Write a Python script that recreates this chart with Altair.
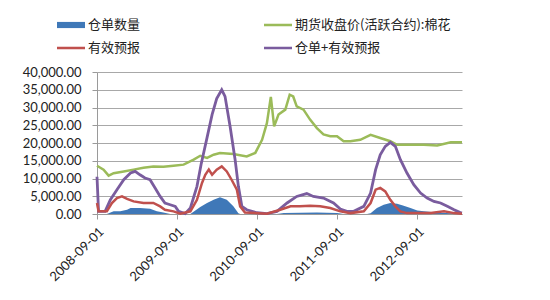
import altair as alt
import pandas as pd

# ---- data ----
series_names = ["仓单数量", "期货收盘价(活跃合约):棉花", "有效预报", "仓单+有效预报"]
series_colors = ["#3f78b8", "#9bbb59", "#c0504d", "#7a5c9e"]

green_dates = ["2008-09-01", "2008-10-01", "2008-10-24", "2008-11-16", "2009-01-01", "2009-02-15",
               "2009-04-01", "2009-05-16", "2009-07-01", "2009-08-16", "2009-10-01", "2009-11-16",
               "2009-12-16", "2010-01-16", "2010-02-15", "2010-03-16", "2010-05-16", "2010-07-16",
               "2010-08-24", "2010-09-24", "2010-10-16", "2010-11-03", "2010-11-18", "2010-12-08",
               "2011-01-08", "2011-01-28", "2011-02-13", "2011-03-01", "2011-04-01", "2011-05-01",
               "2011-06-01", "2011-07-01", "2011-08-01", "2011-09-01", "2011-10-01", "2011-11-01",
               "2011-12-16", "2012-02-01", "2012-03-16", "2012-05-01", "2012-06-01", "2012-08-01",
               "2012-10-01", "2012-12-01", "2013-02-01", "2013-03-24"]
green_values = [13600, 12500, 10800, 11500, 12000, 12500,
                13000, 13400, 13300, 13600, 13900, 15300,
                16400, 15800, 16700, 17200, 16900, 16200,
                17200, 20900, 25600, 33000, 24700, 28000,
                29400, 33600, 33100, 30300, 29400, 26600,
                24200, 22400, 21900, 21900, 20500, 20500,
                20900, 22300, 21400, 20500, 19500, 19500,
                19500, 19300, 20200, 20200]

purple_dates = ["2008-09-01", "2008-09-08", "2008-10-08", "2008-11-01", "2008-12-01", "2009-01-01",
                "2009-02-01", "2009-02-22", "2009-03-16", "2009-04-08", "2009-05-01", "2009-05-24",
                "2009-06-16", "2009-07-08", "2009-08-01", "2009-08-24", "2009-09-08", "2009-10-08",
                "2009-11-01", "2009-12-01", "2009-12-20", "2010-01-16", "2010-02-08", "2010-03-01",
                "2010-03-24", "2010-04-08", "2010-05-01", "2010-05-24", "2010-06-08", "2010-06-24",
                "2010-07-16", "2010-09-01", "2010-10-16", "2010-12-01", "2011-01-16", "2011-03-01",
                "2011-04-16", "2011-05-16", "2011-07-01", "2011-08-16", "2011-09-16", "2011-10-16",
                "2011-11-16", "2012-01-01", "2012-02-01", "2012-02-24", "2012-03-16", "2012-04-08",
                "2012-05-01", "2012-05-24", "2012-06-16", "2012-07-16", "2012-08-16", "2012-09-16",
                "2012-10-16", "2012-11-16", "2012-12-16", "2013-01-16", "2013-02-16", "2013-03-16",
                "2013-03-24"]
purple_values = [2100, 150, 150, 800, 1370, 1930,
                 2310, 2400, 2210, 2030, 1930, 1470,
                 990, 620, 520, 430, 150, 20,
                 340, 1560, 2800, 4300, 5600, 6500,
                 7000, 6630, 4940, 3060, 1560, 430,
                 240, 70, 20, 150, 620, 990,
                 1150, 990, 900, 620, 280, 150,
                 150, 430, 1180, 2500, 3340, 3810,
                 4040, 3810, 3060, 2310, 1650, 1180,
                 900, 710, 620, 430, 240, 80,
                 60]

red_dates = ["2008-09-01", "2008-09-08", "2008-10-16", "2008-11-08", "2008-12-01", "2008-12-24",
             "2009-01-16", "2009-02-15", "2009-04-01", "2009-05-16", "2009-06-16", "2009-07-08",
             "2009-08-16", "2009-09-16", "2009-11-01", "2009-12-01", "2009-12-24", "2010-01-08",
             "2010-01-24", "2010-02-08", "2010-03-01", "2010-03-24", "2010-04-16", "2010-05-08",
             "2010-06-01", "2010-06-16", "2010-07-08", "2010-10-16", "2010-12-16", "2011-02-01",
             "2011-03-16", "2011-05-01", "2011-06-16", "2011-08-01", "2011-09-16", "2011-11-01",
             "2012-01-01", "2012-02-01", "2012-02-24", "2012-03-16", "2012-04-08", "2012-05-01",
             "2012-05-24", "2012-06-16", "2012-07-16", "2012-11-01", "2013-01-01", "2013-02-16",
             "2013-03-24"]
red_values = [620, 150, 150, 620, 900, 990,
              850, 710, 620, 620, 430, 240,
              150, 20, 150, 800, 1750, 2210,
              2500, 2210, 2500, 2680, 2400, 1930,
              1370, 430, 80, 20, 240, 430,
              430, 470, 430, 340, 150, 50,
              150, 620, 1370, 1470, 1270, 800,
              430, 150, 50, 50, 150, 50,
              20]

blue_dates = ["2008-09-01", "2008-10-16", "2008-11-16", "2008-12-16", "2009-01-16", "2009-02-01",
              "2009-03-16", "2009-05-01", "2009-06-01", "2009-07-01", "2009-08-01", "2009-11-01",
              "2009-12-16", "2010-01-16", "2010-02-15", "2010-03-16", "2010-04-16", "2010-05-16",
              "2010-06-08", "2010-06-16", "2010-12-01", "2011-01-01", "2011-06-01", "2011-09-01",
              "2011-10-01", "2012-01-16", "2012-02-01", "2012-03-01", "2012-04-01", "2012-05-01",
              "2012-06-01", "2012-07-01", "2012-08-01", "2012-09-01", "2012-10-01", "2012-12-01",
              "2013-02-01", "2013-03-24"]
blue_values = [0, 0, 150, 150, 240, 340,
               340, 300, 150, 80, 0, 0,
               400, 620, 800, 940, 800, 430,
               40, 0, 0, 50, 90, 60,
               0, 0, 40, 340, 520, 620,
               580, 470, 340, 200, 150, 80,
               40, 0]

left_ticks = [0, 5000, 10000, 15000, 20000, 25000, 30000, 35000, 40000]
right_ticks = [0, 1000, 2000, 3000, 4000, 5000, 6000, 7000, 8000]
x_tick_years = [2008, 2009, 2010, 2011, 2012]
x_start = "2008-09-01"

# ---- frames ----
green_df = pd.DataFrame({"date": green_dates, "value": green_values})
purple_df = pd.DataFrame({"date": purple_dates, "value": purple_values})
red_df = pd.DataFrame({"date": red_dates, "value": red_values})
blue_df = pd.DataFrame({"date": blue_dates, "value": blue_values})
legend_df = pd.DataFrame({"date": [x_start] * 4, "value": [0] * 4, "series": series_names})

FONT = "Lato"
CJK = "Noto Sans CJK SC"

x_scale = alt.Scale(type="utc",
                    domain=[alt.DateTime(year=2008, month=9, date=1, utc=True),
                            alt.DateTime(year=2013, month=3, date=24, utc=True)],
                    nice=False)
x_axis = alt.Axis(values=[alt.DateTime(year=y, month=9, date=1, utc=True) for y in x_tick_years],
                  format="%Y-%m-%d", labelAngle=-45, labelFont=FONT, labelFontSize=13,
                  labelColor="#222222", domainColor="#9a9a9a", tickColor="#9a9a9a",
                  tickSize=5, labelPadding=6, grid=False, title=None)
X = alt.X("date:T", scale=x_scale, axis=x_axis)

left_scale = alt.Scale(domain=[0, 40000], nice=False)
right_scale = alt.Scale(domain=[0, 8000], nice=False)

green = alt.Chart(green_df).mark_line(color=series_colors[1], strokeWidth=2.5).encode(
    x=X,
    y=alt.Y("value:Q", scale=left_scale,
            axis=alt.Axis(values=left_ticks, format=",.2f", labelFont=FONT, labelFontSize=13,
                          labelColor="#222222", domainColor="#9a9a9a", tickColor="#9a9a9a",
                          tickSize=5, labelPadding=11, grid=True, gridColor="#a8a8a8",
                          gridWidth=1, title=None)),
)

right_axis = alt.Axis(values=right_ticks, format=",.2f", orient="right", labelFont=FONT,
                      labelFontSize=13, labelColor="#222222", domainColor="#9a9a9a",
                      tickColor="#9a9a9a", tickSize=5, labelPadding=5, grid=False, title=None)

blue = alt.Chart(blue_df).mark_area(color=series_colors[0], opacity=1).encode(
    x=X, y=alt.Y("value:Q", scale=right_scale, axis=right_axis))
purple = alt.Chart(purple_df).mark_line(color=series_colors[3], strokeWidth=2.8).encode(
    x=X, y=alt.Y("value:Q", scale=right_scale, axis=None))
red = alt.Chart(red_df).mark_line(color=series_colors[2], strokeWidth=2.5).encode(
    x=X, y=alt.Y("value:Q", scale=right_scale, axis=None))

bar_path = "M-1,-0.22H1V0.22H-1Z"
line_path = "M-1,-0.09H1V0.09H-1Z"
legend_pts = alt.Chart(legend_df).mark_point(filled=True, opacity=0).encode(
    x=X,
    y=alt.Y("value:Q", scale=right_scale, axis=None),
    color=alt.Color("series:N",
                    scale=alt.Scale(domain=series_names, range=series_colors),
                    legend=alt.Legend(orient="none", legendX=-40, legendY=-61, columns=2,
                                      direction="horizontal", title=None,
                                      labelFont=CJK, labelFontSize=13, labelColor="#222222",
                                      labelOffset=3, symbolSize=784, symbolOpacity=1,
                                      symbolStrokeWidth=0, columnPadding=123, rowPadding=2,
                                      labelLimit=300)),
    shape=alt.Shape("series:N",
                    scale=alt.Scale(domain=series_names,
                                    range=[bar_path, line_path, line_path, line_path]),
                    legend=None),
)

right_layer = alt.layer(blue, purple, red, legend_pts)

chart = alt.layer(green, right_layer).resolve_scale(y="independent").properties(
    width=365, height=142,
    autosize=alt.AutoSizeParams(type="none"),
    padding={"left": 97, "top": 72, "right": 88, "bottom": 86},
    background="white",
).configure_view(stroke=None)

chart.save("out.html", embed_options={"renderer": "svg", "actions": False})
